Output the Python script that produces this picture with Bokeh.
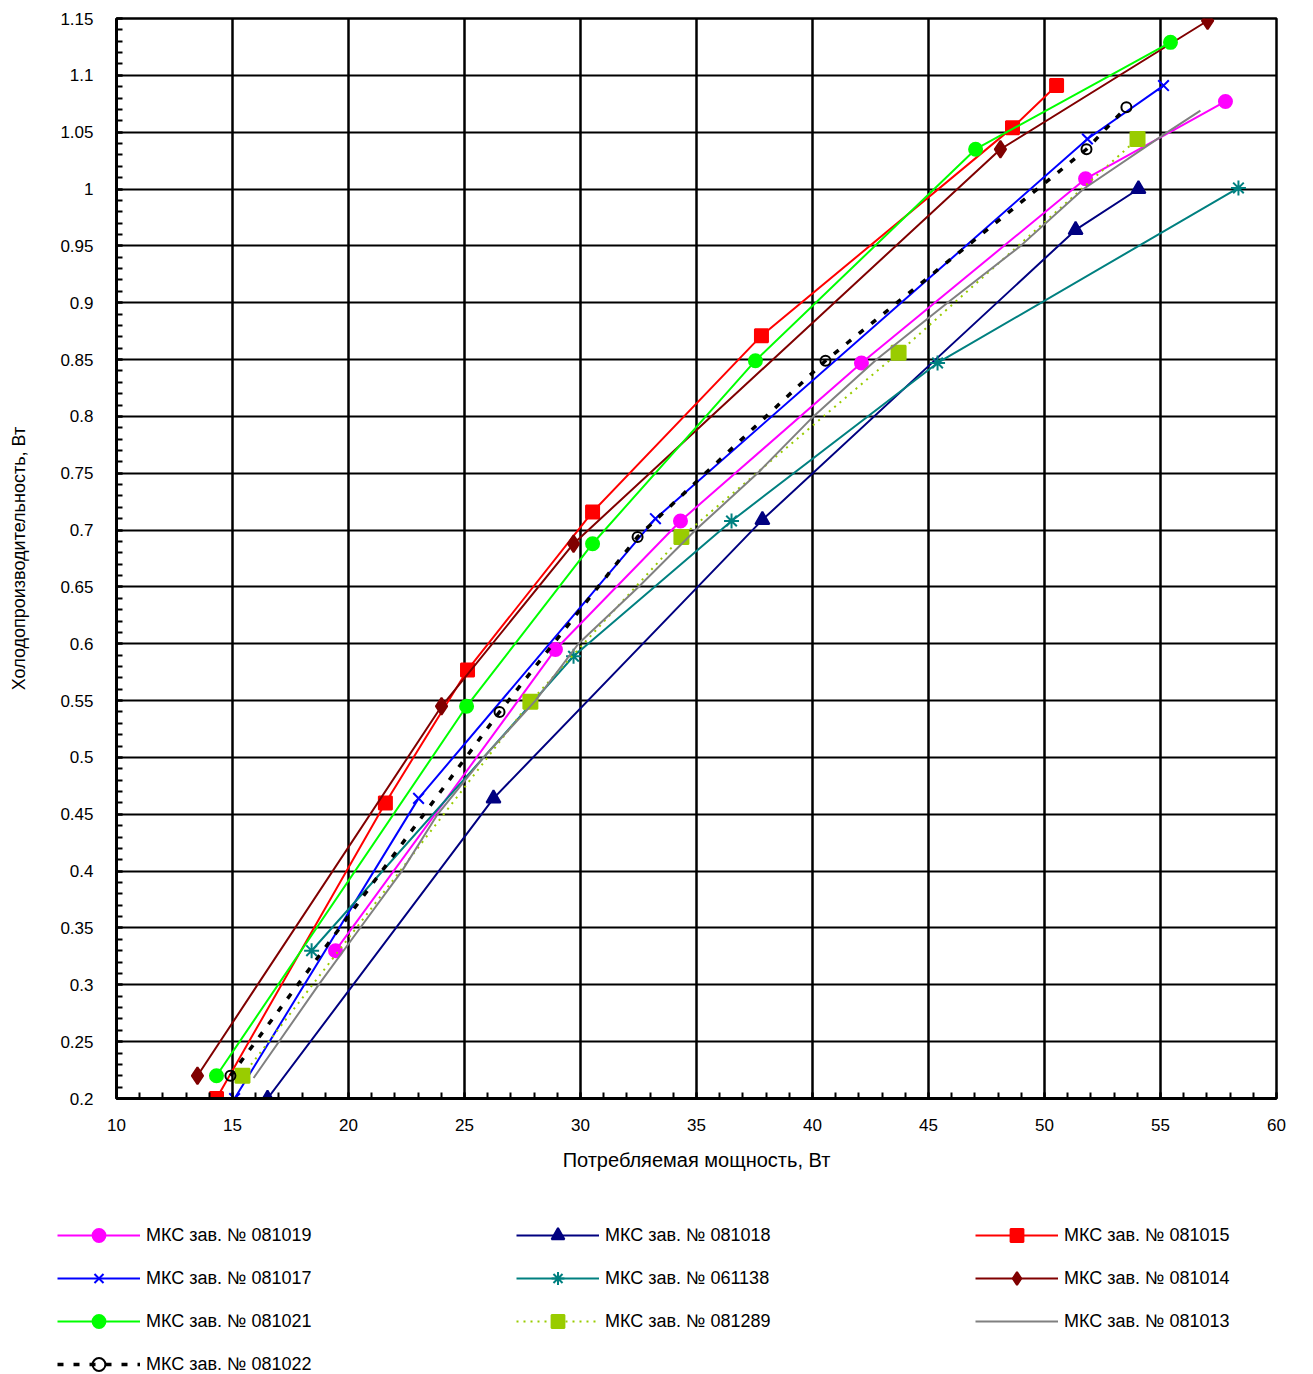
from bokeh.plotting import figure
from bokeh.models import FixedTicker, Legend, LegendItem, Range1d
from bokeh.embed import file_html
from bokeh.resources import INLINE

# ---------------- data ----------------
x_ticks = [10, 15, 20, 25, 30, 35, 40, 45, 50, 55, 60]
x_tick_labels = ["10", "15", "20", "25", "30", "35", "40", "45", "50", "55", "60"]
y_ticks = [0.2, 0.25, 0.3, 0.35, 0.4, 0.45, 0.5, 0.55, 0.6, 0.65, 0.7, 0.75,
           0.8, 0.85, 0.9, 0.95, 1.0, 1.05, 1.1, 1.15]
y_tick_labels = ["0.2", "0.25", "0.3", "0.35", "0.4", "0.45", "0.5", "0.55", "0.6", "0.65",
                 "0.7", "0.75", "0.8", "0.85", "0.9", "0.95", "1", "1.05", "1.1", "1.15"]

x_081019 = [19.44, 28.92, 34.31, 42.11, 51.77, 57.80]
y_081019 = [0.330, 0.595, 0.708, 0.847, 1.009, 1.077]

x_081018 = [16.51, 26.25, 37.84, 51.34, 54.05]
y_081018 = [0.200, 0.464, 0.709, 0.964, 1.000]

x_081015 = [14.31, 21.59, 25.13, 30.52, 37.80, 48.62, 50.52]
y_081015 = [0.200, 0.460, 0.577, 0.716, 0.871, 1.054, 1.091]

x_081017 = [15.09, 23.02, 33.23, 51.85, 55.13]
y_081017 = [0.200, 0.464, 0.710, 1.044, 1.091]

x_061138 = [18.41, 29.70, 36.51, 45.39, 58.36]
y_061138 = [0.330, 0.589, 0.708, 0.847, 1.001]

x_081014 = [13.49, 24.01, 29.70, 48.10, 57.03]
y_081014 = [0.220, 0.545, 0.688, 1.035, 1.148]

x_081021 = [14.31, 25.09, 30.52, 37.54, 47.03, 55.43]
y_081021 = [0.220, 0.545, 0.688, 0.849, 1.035, 1.129]

x_081289 = [15.43, 27.84, 34.35, 43.71, 54.01]
y_081289 = [0.220, 0.549, 0.694, 0.856, 1.044]

x_081013 = [15.91, 18.71, 20.50, 22.30, 23.84, 25.82, 28.06, 29.91, 32.50, 34.96,
            37.63, 40.04, 42.76, 45.82, 48.97, 51.68, 55.30, 56.72]
y_081013 = [0.218, 0.30, 0.35, 0.40, 0.45, 0.50, 0.55, 0.60, 0.65, 0.70,
            0.75, 0.80, 0.85, 0.90, 0.95, 1.00, 1.05, 1.069]

x_081022 = [14.91, 26.51, 32.46, 40.56, 51.81, 53.53]
y_081022 = [0.220, 0.540, 0.694, 0.849, 1.035, 1.072]

labels = ["МКС зав. № 081019", "МКС зав. № 081018", "МКС зав. № 081015",
          "МКС зав. № 081017", "МКС зав. № 061138", "МКС зав. № 081014",
          "МКС зав. № 081021", "МКС зав. № 081289", "МКС зав. № 081013",
          "МКС зав. № 081022"]

# ---------------- styles ----------------
series = [
    (x_081019, y_081019, dict(color="#FF00FF", dash="solid", lw=2, marker="circle", size=13, fill="#FF00FF")),
    (x_081018, y_081018, dict(color="#000080", dash="solid", lw=2, marker="triangle", size=14, fill="#000080")),
    (x_081015, y_081015, dict(color="#FF0000", dash="solid", lw=2, marker="square", size=13, fill="#FF0000")),
    (x_081017, y_081017, dict(color="#0000FF", dash="solid", lw=2, marker="x", size=15, fill="#0000FF")),
    (x_061138, y_061138, dict(color="#008080", dash="solid", lw=2, marker="asterisk", size=15, fill="#008080")),
    (x_081014, y_081014, dict(color="#800000", dash="solid", lw=2, marker="diamond", size=17, fill="#800000")),
    (x_081021, y_081021, dict(color="#00FF00", dash="solid", lw=2, marker="circle", size=13, fill="#00FF00")),
    (x_081289, y_081289, dict(color="#99CC00", dash="2 5", lw=2, marker="square", size=14, fill="#99CC00")),
    (x_081013, y_081013, dict(color="#808080", dash="solid", lw=2, marker=None, size=0, fill=None)),
    (x_081022, y_081022, dict(color="#000000", dash="6 10", lw=3.5, marker="circle", size=10, fill=None)),
]


def draw(fig, xs, ys, st):
    rs = [fig.line(xs, ys, line_color=st["color"], line_width=st["lw"], line_dash=st["dash"])]
    if st["marker"] is not None:
        if st["fill"] is None:
            rs.append(fig.scatter(xs, ys, marker=st["marker"], size=st["size"], line_color=st["color"],
                                  line_width=2, fill_color="white", fill_alpha=0))
        else:
            rs.append(fig.scatter(xs, ys, marker=st["marker"], size=st["size"], line_color=st["color"],
                                  line_width=2, fill_color=st["fill"]))
    return rs


p = figure(width=1310, height=1190, output_backend="svg", toolbar_location=None,
           x_range=Range1d(10, 60), y_range=Range1d(0.2, 1.15),
           min_border_left=116, min_border_right=34, min_border_top=18,
           min_border_bottom=92, background_fill_color="white",
           border_fill_color="white")

p.outline_line_color = "black"
p.outline_line_width = 2.5

p.xaxis.ticker = FixedTicker(ticks=x_ticks, minor_ticks=list(range(10, 61)))
p.yaxis.ticker = FixedTicker(ticks=y_ticks, minor_ticks=[round(0.2 + 0.01 * i, 2) for i in range(96)])
p.xaxis.major_label_overrides = {t: s for t, s in zip(x_ticks, x_tick_labels)}
p.yaxis.major_label_overrides = {t: s for t, s in zip(y_ticks, y_tick_labels)}

for ax in (p.xaxis, p.yaxis):
    ax.axis_line_color = "black"
    ax.axis_line_width = 3
    ax.major_tick_in = 6
    ax.major_tick_out = 0
    ax.minor_tick_in = 6
    ax.minor_tick_out = 0
    ax.major_tick_line_width = 2
    ax.minor_tick_line_width = 2
    ax.major_tick_line_color = "black"
    ax.minor_tick_line_color = "black"
    ax.major_label_text_font = "Liberation Sans"
    ax.major_label_text_font_size = "17px"
    ax.major_label_text_color = "black"
    ax.axis_label_text_font = "Liberation Sans"
    ax.axis_label_text_font_style = "normal"
    ax.axis_label_text_color = "black"

p.xaxis.major_label_standoff = 20
p.yaxis.major_label_standoff = 23
p.xaxis.axis_label = "Потребляемая мощность, Вт"
p.yaxis.axis_label = "Холодопроизводительность, Вт"
p.xaxis.axis_label_text_font_size = "20px"
p.yaxis.axis_label_text_font_size = "18px"
p.xaxis.axis_label_standoff = 15
p.yaxis.axis_label_standoff = 28

p.xgrid.ticker = FixedTicker(ticks=x_ticks)
p.ygrid.ticker = FixedTicker(ticks=y_ticks)
p.xgrid.grid_line_color = "black"
p.xgrid.grid_line_width = 2.5
p.ygrid.grid_line_color = "black"
p.ygrid.grid_line_width = 2

for xs, ys, st in series:
    draw(p, xs, ys, st)

# legend panel: same series drawn outside its visible range, only the legend shows
lf = figure(width=1310, height=182, output_backend="svg", toolbar_location=None,
            x_range=Range1d(100, 101), y_range=Range1d(100, 101),
            x_axis_location=None, y_axis_location=None, min_border=0,
            background_fill_color="white", border_fill_color="white")
lf.outline_line_color = None
lf.xgrid.visible = False
lf.ygrid.visible = False

items = []
for (xs, ys, st), lab in zip(series, labels):
    items.append(LegendItem(label=lab, renderers=draw(lf, xs, ys, st)))

legend = Legend(items=items, location=(57, -8), orientation="horizontal", ncols=3,
                glyph_width=83, glyph_height=32, label_height=32, label_width=359,
                label_standoff=6, spacing=11, padding=0, margin=0,
                label_text_font="Liberation Sans", label_text_font_size="18px",
                label_text_color="black",
                background_fill_alpha=0, border_line_alpha=0)
lf.add_layout(legend, "center")

open("out.html", "w").write(file_html([p, lf], INLINE))
